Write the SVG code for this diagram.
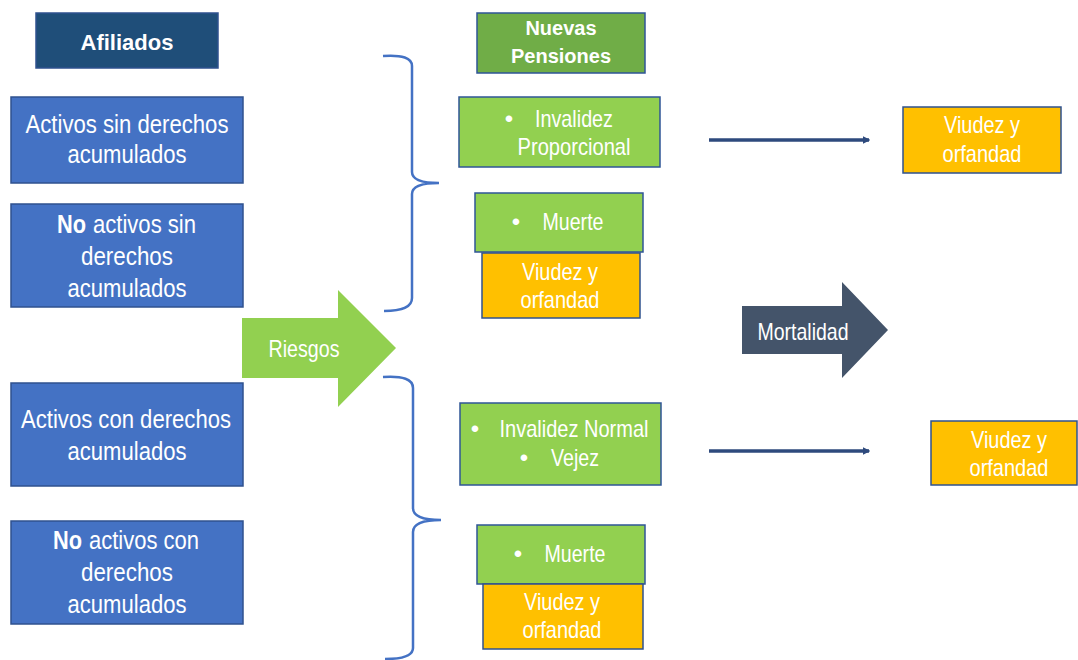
<svg xmlns="http://www.w3.org/2000/svg" width="1078" height="660" viewBox="0 0 1078 660">
<defs>
<style>
.blue{fill:#4472C4;stroke:#2F528F;stroke-width:1.5}
.navy{fill:#1F4E79;stroke:#2F528F;stroke-width:1.5}
.dgreen{fill:#70AD47;stroke:#2F5597;stroke-width:1.5}
.green{fill:#92D050;stroke:#2F5597;stroke-width:1.5}
.orange{fill:#FFC000;stroke:#2F528F;stroke-width:1.5}
.t{font-family:"Liberation Sans",Arial,sans-serif;fill:#FFFFFF;text-anchor:middle}
.s{font-family:"Liberation Sans",Arial,sans-serif;fill:#FFFFFF;text-anchor:start}
.l{font-size:25px}
.m{font-size:24px}
.b{font-family:"Liberation Sans",Arial,sans-serif;font-weight:bold;fill:#FFFFFF;text-anchor:middle}
.brace{fill:none;stroke:#4472C4;stroke-width:2.5}
.conn{stroke:#2E4A7D;stroke-width:3.5;fill:none}
</style>
<marker id="ah" viewBox="0 0 6 6" refX="5" refY="3" markerWidth="2.2" markerHeight="2.6" orient="auto" markerUnits="strokeWidth">
<path d="M0,0 L6,3 L0,6 Z" fill="#2E4A7D"/>
</marker>
</defs>

<g id="afiliados">
<rect class="navy" x="36" y="13" width="182" height="55"/>
<text class="b" x="127" y="50" font-size="22">Afiliados</text>
</g>
<g id="activos-sin">
<rect class="blue" x="11" y="97" width="232" height="86"/>
<text class="t l" x="127" y="133" textLength="203" lengthAdjust="spacingAndGlyphs">Activos sin derechos</text>
<text class="t l" x="127" y="163" textLength="119" lengthAdjust="spacingAndGlyphs">acumulados</text>
</g>
<g id="no-activos-sin">
<rect class="blue" x="11" y="204" width="232" height="103"/>
<text class="s l" x="57" y="233" font-weight="bold" textLength="29" lengthAdjust="spacingAndGlyphs">No</text>
<text class="s l" x="93" y="233" textLength="103" lengthAdjust="spacingAndGlyphs">activos sin</text>
<text class="t l" x="127" y="265" textLength="92" lengthAdjust="spacingAndGlyphs">derechos</text>
<text class="t l" x="127" y="297" textLength="119" lengthAdjust="spacingAndGlyphs">acumulados</text>
</g>
<g id="activos-con">
<rect class="blue" x="11" y="383" width="232" height="103"/>
<text class="t l" x="126" y="428" textLength="210" lengthAdjust="spacingAndGlyphs">Activos con derechos</text>
<text class="t l" x="127" y="460" textLength="119" lengthAdjust="spacingAndGlyphs">acumulados</text>
</g>
<g id="no-activos-con">
<rect class="blue" x="11" y="521" width="232" height="103"/>
<text class="s l" x="53" y="549" font-weight="bold" textLength="29" lengthAdjust="spacingAndGlyphs">No</text>
<text class="s l" x="89" y="549" textLength="110" lengthAdjust="spacingAndGlyphs">activos con</text>
<text class="t l" x="127" y="581" textLength="92" lengthAdjust="spacingAndGlyphs">derechos</text>
<text class="t l" x="127" y="613" textLength="119" lengthAdjust="spacingAndGlyphs">acumulados</text>
</g>

<g id="riesgos">
<path d="M242,318 L338,318 L338,290 L396,348 L338,407 L338,378 L242,378 Z" fill="#92D050"/>
<text class="t m" x="304" y="357" textLength="71" lengthAdjust="spacingAndGlyphs">Riesgos</text>
</g>

<g id="nuevas-pensiones">
<rect class="dgreen" x="477" y="13" width="168" height="60"/>
<text class="b" x="561" y="35" font-size="20">Nuevas</text>
<text class="b" x="561" y="63" font-size="20">Pensiones</text>
</g>
<g id="invalidez-proporcional">
<rect class="green" x="459" y="97" width="201" height="70"/>
<text class="t m" x="509" y="127">•</text>
<text class="t m" x="574" y="127" textLength="78" lengthAdjust="spacingAndGlyphs">Invalidez</text>
<text class="t m" x="574" y="155" textLength="113" lengthAdjust="spacingAndGlyphs">Proporcional</text>
</g>
<g id="muerte-1">
<rect class="green" x="475" y="193" width="168" height="59"/>
<text class="t m" x="516" y="230">•</text>
<text class="t m" x="573" y="230" textLength="61" lengthAdjust="spacingAndGlyphs">Muerte</text>
</g>
<g id="viudez-1">
<rect class="orange" x="482" y="253" width="158" height="65"/>
<text class="t m" x="560" y="280" textLength="76" lengthAdjust="spacingAndGlyphs">Viudez y</text>
<text class="t m" x="560" y="308" textLength="79" lengthAdjust="spacingAndGlyphs">orfandad</text>
</g>
<g id="invalidez-normal">
<rect class="green" x="460" y="403" width="201" height="82"/>
<text class="t m" x="475" y="437">•</text>
<text class="t m" x="574" y="437" textLength="149" lengthAdjust="spacingAndGlyphs">Invalidez Normal</text>
<text class="t m" x="524" y="466">•</text>
<text class="t m" x="575" y="466" textLength="48" lengthAdjust="spacingAndGlyphs">Vejez</text>
</g>
<g id="muerte-2">
<rect class="green" x="477" y="525" width="168" height="59"/>
<text class="t m" x="518" y="562">•</text>
<text class="t m" x="575" y="562" textLength="61" lengthAdjust="spacingAndGlyphs">Muerte</text>
</g>
<g id="viudez-2">
<rect class="orange" x="483" y="584" width="160" height="65"/>
<text class="t m" x="562" y="610" textLength="76" lengthAdjust="spacingAndGlyphs">Viudez y</text>
<text class="t m" x="562" y="638" textLength="79" lengthAdjust="spacingAndGlyphs">orfandad</text>
</g>

<g id="mortalidad">
<path d="M742,306 L842,306 L842,282 L888,330 L842,378 L842,354 L742,354 Z" fill="#44546A"/>
<text class="t m" x="803" y="340" textLength="91" lengthAdjust="spacingAndGlyphs">Mortalidad</text>
</g>

<g id="viudez-3">
<rect class="orange" x="903" y="107" width="158" height="66"/>
<text class="t m" x="982" y="133" textLength="76" lengthAdjust="spacingAndGlyphs">Viudez y</text>
<text class="t m" x="982" y="162" textLength="79" lengthAdjust="spacingAndGlyphs">orfandad</text>
</g>
<g id="viudez-4">
<rect class="orange" x="931" y="421" width="146" height="64"/>
<text class="t m" x="1009" y="448" textLength="76" lengthAdjust="spacingAndGlyphs">Viudez y</text>
<text class="t m" x="1009" y="476" textLength="79" lengthAdjust="spacingAndGlyphs">orfandad</text>
</g>

<g id="connectors">
<path class="brace" d="M383,56 Q412,54 412,66 L412,172 Q412,183 439,183 Q412,183 412,194 L412,298 Q412,311 384,311"/>
<path class="brace" d="M383,377 Q413,375 413,388 L413,508 Q413,520 441,520 Q413,520 413,532 L413,648 Q413,659 385,659"/>
<line class="conn" x1="709" y1="140" x2="869" y2="140" marker-end="url(#ah)"/>
<line class="conn" x1="709" y1="451" x2="869" y2="451" marker-end="url(#ah)"/>
</g>
</svg>
